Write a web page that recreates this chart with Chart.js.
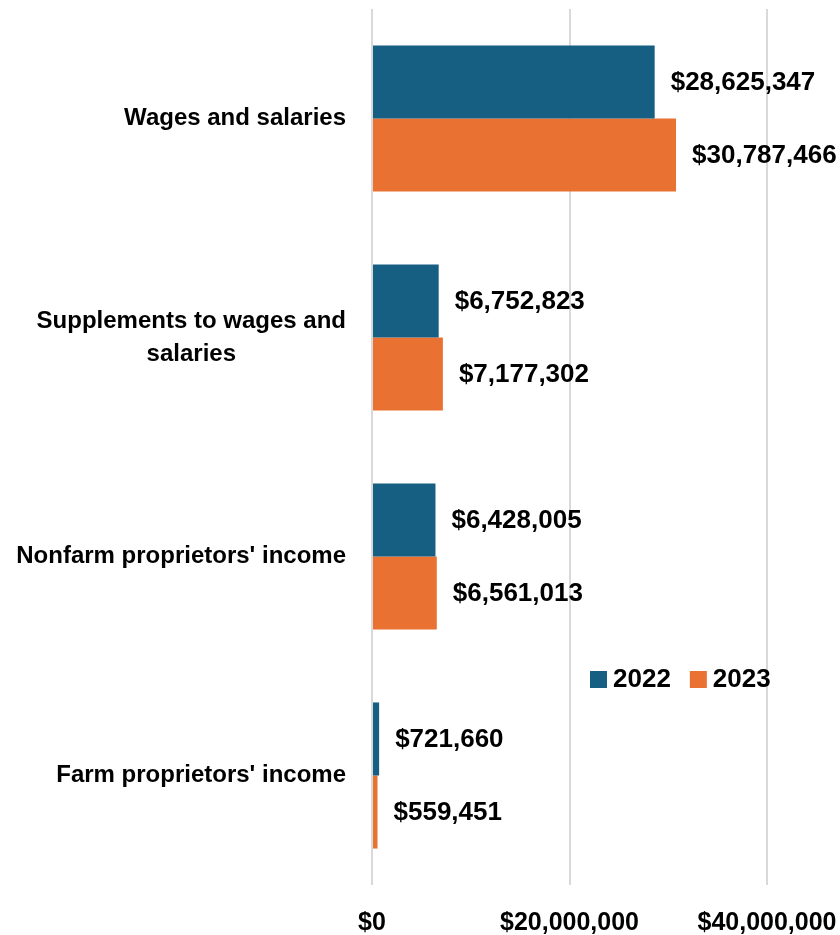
<!DOCTYPE html>
<html>
<head>
<meta charset="utf-8">
<script src="https://cdn.jsdelivr.net/npm/chart.js@4/dist/chart.umd.min.js"></script>
<style>
  html, body { margin: 0; padding: 0; background: #fff; }
  #wrap { width: 840px; height: 935px; position: relative; }
</style>
</head>
<body>
<div id="wrap"><canvas id="chart"></canvas></div>
<script>
// categories, top to bottom
const categories = [
  ['Wages and salaries'],
  ['Supplements to wages and', 'salaries'],
  ["Nonfarm proprietors' income"],
  ["Farm proprietors' income"]
];
const values2022 = [28625347, 6752823, 6428005, 721660];
const values2023 = [30787466, 7177302, 6561013, 559451];
const xTicks = [0, 20000000, 40000000];

const BLUE = '#175f82';
const ORANGE = '#e97132';
const FONT = '"Liberation Sans", Arial, sans-serif';

function money(v) {
  return '$' + Math.round(v).toLocaleString('en-US');
}

// value labels to the right of each bar
const barLabels = {
  id: 'barLabels',
  afterDatasetsDraw(chart) {
    const ctx = chart.ctx;
    ctx.save();
    ctx.font = 'bold 26px ' + FONT;
    ctx.fillStyle = '#000';
    ctx.textAlign = 'left';
    ctx.textBaseline = 'middle';
    chart.data.datasets.forEach(function(ds, i) {
      chart.getDatasetMeta(i).data.forEach(function(bar, j) {
        ctx.fillText(money(ds.data[j]), bar.x + 16, bar.y + 1);
      });
    });
    ctx.restore();
  }
};

// category names, lines centred inside each block, block right-aligned
const catLabels = {
  id: 'catLabels',
  afterDraw(chart) {
    const ctx = chart.ctx;
    const y = chart.scales.y;
    const right = chart.chartArea.left - 26;
    ctx.save();
    ctx.font = 'bold 24px ' + FONT;
    ctx.fillStyle = '#000';
    ctx.textAlign = 'center';
    ctx.textBaseline = 'middle';
    categories.forEach(function(lines, i) {
      const cy = y.getPixelForValue(i);
      const w = Math.max.apply(null, lines.map(function(l) { return ctx.measureText(l).width; }));
      const lh = 33;
      const y0 = cy - (lines.length - 1) * lh / 2;
      lines.forEach(function(l, k) {
        ctx.fillText(l, right - w / 2, y0 + k * lh);
      });
    });
    ctx.restore();
  }
};

// legend drawn inside the plot area
const innerLegend = {
  id: 'innerLegend',
  afterDraw(chart) {
    const ctx = chart.ctx;
    let x = 590;
    const top = 671;
    ctx.save();
    ctx.font = 'bold 26px ' + FONT;
    ctx.textAlign = 'left';
    ctx.textBaseline = 'middle';
    chart.data.datasets.forEach(function(ds) {
      ctx.fillStyle = ds.backgroundColor;
      ctx.fillRect(x, top, 17, 17);
      ctx.fillStyle = '#000';
      ctx.fillText(ds.label, x + 23, top + 9);
      x += 23 + ctx.measureText(ds.label).width + 19;
    });
    ctx.restore();
  }
};

new Chart(document.getElementById('chart').getContext('2d'), {
  type: 'bar',
  data: {
    labels: categories.map(function(l) { return l.join(' '); }),
    datasets: [
      { label: '2022', data: values2022, backgroundColor: BLUE },
      { label: '2023', data: values2023, backgroundColor: ORANGE }
    ]
  },
  options: {
    indexAxis: 'y',
    responsive: true,
    maintainAspectRatio: false,
    animation: false,
    categoryPercentage: 0.667,
    barPercentage: 1,
    layout: { padding: { top: 9, right: 73, left: 0, bottom: 0 } },
    plugins: {
      legend: { display: false },
      tooltip: { enabled: false }
    },
    scales: {
      x: {
        min: 0,
        max: 40000000,
        afterBuildTicks: function(scale) {
          scale.ticks = xTicks.map(function(v) { return { value: v }; });
        },
        afterFit: function(scale) {
          scale.height = 50;
          scale.paddingLeft = 0;
          scale.paddingRight = 0;
        },
        grid: { color: '#d9d9d9', lineWidth: 2, drawTicks: false },
        border: { display: false },
        ticks: {
          padding: 23,
          color: '#000',
          font: { family: FONT, size: 25, weight: 'bold' },
          callback: function(v) { return money(v); }
        }
      },
      y: {
        afterFit: function(scale) { scale.width = 372; },
        grid: { display: false },
        border: { display: false },
        ticks: { display: false }
      }
    }
  },
  plugins: [barLabels, catLabels, innerLegend]
});
</script>
</body>
</html>
